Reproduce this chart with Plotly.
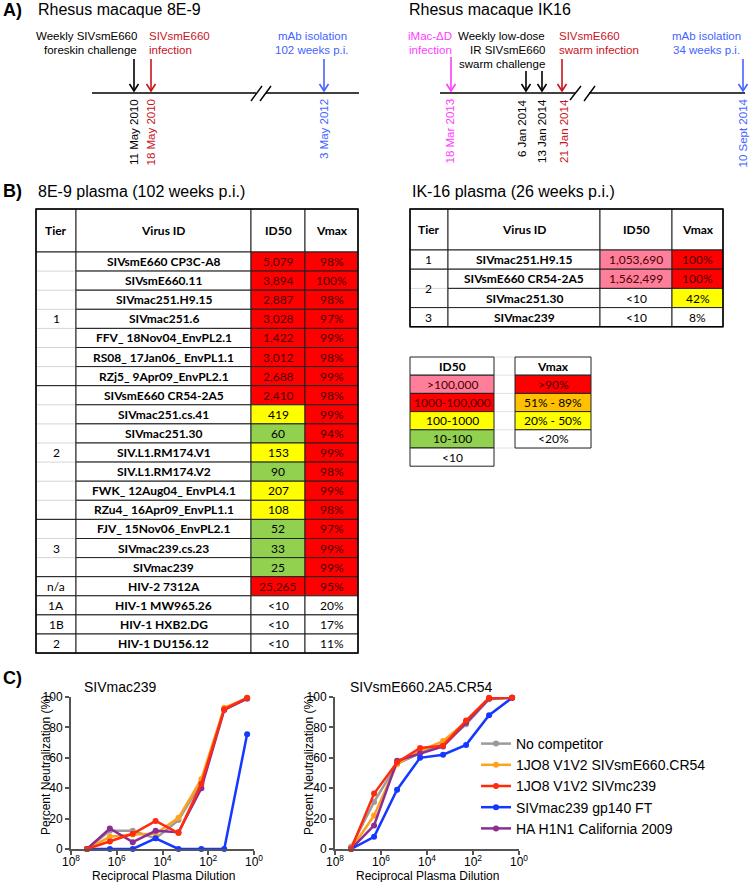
import plotly.graph_objects as go

W, H = 750, 882

# ---------------- Panel A data ----------------
a1_notes = ["Weekly SIVsmE660", "foreskin challenge", "SIVsmE660", "infection", "mAb isolation", "102 weeks p.i."]
a1_dates = ["11 May 2010", "18 May 2010", "3 May 2012"]
a2_notes = ["iMac-ΔD", "infection", "Weekly low-dose", "IR SIVsmE660", "swarm challenge",
            "SIVsmE660", "swarm infection", "mAb isolation", "34 weeks p.i."]
a2_dates = ["18 Mar 2013", "6 Jan 2014", "13 Jan 2014", "21 Jan 2014", "10 Sept 2014"]

# ---------------- Panel B data ----------------
tier_8e9 = ["1", "1", "1", "1", "1", "1", "1", "2", "2", "2", "2", "2", "2", "2",
            "3", "3", "3", "n/a", "1A", "1B", "2"]
virus_8e9 = ["SIVsmE660 CP3C-A8", "SIVsmE660.11", "SIVmac251.H9.15", "SIVmac251.6",
             "FFV_ 18Nov04_EnvPL2.1", "RS08_ 17Jan06_ EnvPL1.1", "RZj5_ 9Apr09_EnvPL2.1",
             "SIVsmE660 CR54-2A5", "SIVmac251.cs.41", "SIVmac251.30", "SIV.L1.RM174.V1",
             "SIV.L1.RM174.V2", "FWK_ 12Aug04_ EnvPL4.1", "RZu4_ 16Apr09_EnvPL1.1",
             "FJV_ 15Nov06_EnvPL2.1", "SIVmac239.cs.23", "SIVmac239", "HIV-2 7312A",
             "HIV-1 MW965.26", "HIV-1 HXB2.DG", "HIV-1 DU156.12"]
id50_8e9 = ["5,079", "3,894", "2,887", "3,028", "1,422", "3,012", "2,688", "2,410", "419", "60",
            "153", "90", "207", "108", "52", "33", "25", "25,265", "<10", "<10", "<10"]
vmax_8e9 = ["98%", "100%", "98%", "97%", "99%", "98%", "99%", "98%", "99%", "94%", "99%",
            "98%", "99%", "98%", "97%", "99%", "99%", "95%", "20%", "17%", "11%"]

tier_ik16 = ["1", "2", "2", "3"]
virus_ik16 = ["SIVmac251.H9.15", "SIVsmE660 CR54-2A5", "SIVmac251.30", "SIVmac239"]
id50_ik16 = ["1,053,690", "1,562,499", "<10", "<10"]
vmax_ik16 = ["100%", "100%", "42%", "8%"]

id50_key = [">100,000", "1000-100,000", "100-1000", "10-100", "<10"]
vmax_key = [">90%", "51% - 89%", "20% - 50%", "<20%"]

# ---------------- Panel C data ----------------
dilution = [2e7, 2e6, 2e5, 2e4, 2e3, 2e2, 2e1, 2]
competitors = ["No competitor", "1JO8 V1V2 SIVsmE660.CR54", "1JO8 V1V2 SIVmc239",
               "SIVmac239 gp140 FT", "HA H1N1 California 2009"]
mac239_no_comp = [0, 12, 12, 7, 19, 44, 92, 99]
mac239_cr54 = [0, 8, 9.5, 10, 20.5, 46, 93, 99]
mac239_mc239 = [0, 5, 10, 18.5, 10.5, 43, 92, 99.5]
mac239_gp140 = [0, 0, 0, 7, 0, 0, 0, 75.5]
mac239_ha = [0, 13.5, 4.5, 12, 11, 40, 91.5, 99]

cr54_no_comp = [1.5, 31, 56, 63, 69, 82, 98.5, 99.5]
cr54_cr54 = [0, 22, 56, 64.5, 71, 83.5, 99, 99.5]
cr54_mc239 = [0, 36.5, 57, 66.5, 68, 84.5, 99.5, 99.5]
cr54_gp140 = [0, 8, 39, 60, 62, 68.5, 88, 99.5]
cr54_ha = [0, 15.5, 58, 63, 67.5, 83, 99, 99.5]

# ---------------- styling ----------------
SANS = "Liberation Sans, Arial, sans-serif"
TAB = "Lato, Carlito, Calibri, sans-serif"
PINK, RED, YEL, GRN, ORG, WHT = "#ff7e9a", "#ff0000", "#ffff00", "#92d050", "#ffc000", "#ffffff"
C_RED, C_BLUE, C_MAG = "#c8141c", "#4463ff", "#ff3cff"
curve_colors = ["#9b9b9b", "#ffa11f", "#ff2b0d", "#1438ff", "#8c2d94"]

shapes, annots = [], []


def px(x):
    return x / W


def py(y):
    return 1 - y / H


def rect(x0, y0, x1, y1, fill=WHT, line="#222222", lw=1.0):
    shapes.append(dict(type="rect", xref="paper", yref="paper", x0=px(x0), x1=px(x1),
                       y0=py(y1), y1=py(y0), fillcolor=fill, line=dict(color=line, width=lw),
                       layer="below"))


def seg(x0, y0, x1, y1, color="black", lw=1.0):
    shapes.append(dict(type="line", xref="paper", yref="paper", x0=px(x0), x1=px(x1),
                       y0=py(y0), y1=py(y1), line=dict(color=color, width=lw), layer="below"))


def txt(x, y, s, size=12, color="black", family=SANS, xa="center", ya="middle", angle=0):
    annots.append(dict(x=px(x), y=py(y), xref="paper", yref="paper", text=s, showarrow=False,
                       xanchor=xa, yanchor=ya, textangle=angle,
                       font=dict(size=size, color=color, family=family)))


def arrow(x, y_head, y_tail, color):
    seg(x, y_tail, x, y_head, color=color, lw=1.6)
    path = (f"M{px(x - 4.5)},{py(y_head - 7)} L{px(x)},{py(y_head)} "
            f"L{px(x + 4.5)},{py(y_head - 7)}")
    shapes.append(dict(type="path", xref="paper", yref="paper", path=path,
                       line=dict(color=color, width=1.6), layer="below"))


def id50_fill(s):
    if s.startswith("<"):
        return WHT
    v = int(s.replace(",", ""))
    if v > 100000:
        return PINK
    if v >= 1000:
        return RED
    if v >= 100:
        return YEL
    return GRN


def vmax_fill(s):
    v = int(s.strip("%"))
    if v > 90:
        return RED
    if v > 50:
        return ORG
    if v > 20:
        return YEL
    return WHT


def ink(fill):
    return "#4a0000" if fill in (RED, PINK) else "#000000"


# ---------------- Panel A ----------------
txt(1, 10, "<b>A)</b>", size=18, xa="left")
txt(36, 9, "Rhesus macaque 8E-9", size=16, xa="left")
seg(92, 93, 256, 93, lw=1.6)
seg(266, 93, 359, 93, lw=1.6)
seg(251, 101, 262, 86, lw=1.4)
seg(260, 101, 271, 86, lw=1.4)
arrow(134, 91, 59, "black")
arrow(151, 91, 59, C_RED)
arrow(324, 91, 59, C_BLUE)
txt(139, 36, a1_notes[0], 11.5, xa="right")
txt(139, 50, a1_notes[1], 11.5, xa="right")
txt(147, 36, a1_notes[2], 11.5, C_RED, xa="left")
txt(147, 50, a1_notes[3], 11.5, C_RED, xa="left")
txt(312, 36, a1_notes[4], 11.5, C_BLUE)
txt(312, 50, a1_notes[5], 11.5, C_BLUE)
for xx, s, c in zip([134, 151, 324], a1_dates, ["black", C_RED, C_BLUE]):
    txt(xx, 97, s, 11.5, c, ya="top", angle=-90)

txt(407, 9, "Rhesus macaque IK16", size=16, xa="left")
seg(440, 93, 575, 93, lw=1.6)
seg(589, 93, 745, 93, lw=1.6)
seg(570, 100, 581, 86, lw=1.4)
seg(584, 101, 595, 86, lw=1.4)
arrow(451, 91, 57, C_MAG)
arrow(526, 91, 71, "black")
arrow(542, 91, 71, "black")
arrow(562, 91, 59, C_RED)
arrow(743, 91, 59, C_BLUE)
txt(454, 36, a2_notes[0], 11.5, C_MAG, xa="right")
txt(454, 50, a2_notes[1], 11.5, C_MAG, xa="right")
txt(547, 36, a2_notes[2], 11.5, xa="right")
txt(547, 50, a2_notes[3], 11.5, xa="right")
txt(547, 63.5, a2_notes[4], 11.5, xa="right")
txt(557, 36, a2_notes[5], 11.5, C_RED, xa="left")
txt(557, 50, a2_notes[6], 11.5, C_RED, xa="left")
txt(706, 36, a2_notes[7], 11.5, C_BLUE)
txt(706, 50, a2_notes[8], 11.5, C_BLUE)
for xx, s, c in zip([450, 522, 542, 564, 743], a2_dates, [C_MAG, "black", "black", C_RED, C_BLUE]):
    txt(xx, 97, s, 11.5, c, ya="top", angle=-90)


# ---------------- Panel B ----------------
def draw_table(xe, top, head_h, row_h, tiers, viruses, id50, vmax):
    hb = top + head_h
    for j, h in enumerate(["Tier", "Virus ID", "ID50", "Vmax"]):
        rect(xe[j], top, xe[j + 1], hb)
        txt((xe[j] + xe[j + 1]) / 2, (top + hb) / 2, f"<b>{h}</b>", 12, family=TAB)
    n = len(viruses)
    start = 0
    for i in range(1, n + 1):
        if i == n or tiers[i] != tiers[start]:
            y0, y1 = hb + start * row_h, hb + i * row_h
            rect(xe[0], y0, xe[1], y1)
            for k in range(start + 1, i):
                seg(xe[0] + 1, hb + k * row_h, xe[1] - 1, hb + k * row_h, color="#d6d6d6")
            txt((xe[0] + xe[1]) / 2, (y0 + y1) / 2, tiers[start], 12, family=TAB)
            start = i
    for i in range(n):
        y0 = hb + i * row_h
        y1 = y0 + row_h
        yc = (y0 + y1) / 2
        rect(xe[1], y0, xe[2], y1)
        txt((xe[1] + xe[2]) / 2, yc, f"<b>{viruses[i]}</b>", 12, family=TAB)
        f = id50_fill(id50[i])
        rect(xe[2], y0, xe[3], y1, fill=f)
        txt((xe[2] + xe[3]) / 2, yc, id50[i], 12, ink(f), family=TAB)
        f = vmax_fill(vmax[i])
        rect(xe[3], y0, xe[4], y1, fill=f)
        txt((xe[3] + xe[4]) / 2, yc, vmax[i], 12, ink(f), family=TAB)
    rect(xe[0], top, xe[-1], hb + n * row_h, fill="rgba(0,0,0,0)", line="black", lw=1.5)


txt(1, 191, "<b>B)</b>", size=18, xa="left")
txt(36, 191, "8E-9 plasma (102 weeks p.i.)", size=16, xa="left")
draw_table([36, 76, 251, 305, 358], 209, 43, 19.1, tier_8e9, virus_8e9, id50_8e9, vmax_8e9)

txt(410, 191, "IK-16 plasma (26 weeks p.i.)", size=16, xa="left")
draw_table([410, 448, 600, 672, 723], 209, 41, 19.2, tier_ik16, virus_ik16, id50_ik16, vmax_ik16)

# colour keys
key_top, key_rh = 357, 18.2
id50_key_fill = [PINK, RED, YEL, GRN, WHT]
vmax_key_fill = [RED, ORG, YEL, WHT]
for k in range(6):
    seg(494, key_top + k * key_rh, 515, key_top + k * key_rh, color="#e2e2e2")
seg(591, key_top + 5 * key_rh, 515, key_top + 5 * key_rh, color="#e2e2e2")
seg(591, key_top + 4 * key_rh, 591, key_top + 5 * key_rh, color="#e2e2e2")
rect(410, key_top, 494, key_top + key_rh)
txt(452, key_top + key_rh / 2, "<b>ID50</b>", 12, family=TAB)
for k, (s, f) in enumerate(zip(id50_key, id50_key_fill)):
    y0 = key_top + (k + 1) * key_rh
    rect(410, y0, 494, y0 + key_rh, fill=f)
    txt(452, y0 + key_rh / 2, s, 12, ink(f), family=TAB)
rect(515, key_top, 591, key_top + key_rh)
txt(553, key_top + key_rh / 2, "<b>Vmax</b>", 12, family=TAB)
for k, (s, f) in enumerate(zip(vmax_key, vmax_key_fill)):
    y0 = key_top + (k + 1) * key_rh
    rect(515, y0, 591, y0 + key_rh, fill=f)
    txt(553, y0 + key_rh / 2, s, 12, ink(f), family=TAB)

# ---------------- Panel C ----------------
fig = go.Figure()
mac239 = [mac239_no_comp, mac239_cr54, mac239_mc239, mac239_gp140, mac239_ha]
cr54 = [cr54_no_comp, cr54_cr54, cr54_mc239, cr54_gp140, cr54_ha]
draw_order = [0, 1, 4, 3, 2]
for xa, ya, data, show in [("x", "y", mac239, False), ("x2", "y2", cr54, True)]:
    for i in draw_order:
        fig.add_trace(go.Scatter(
            x=dilution, y=data[i], mode="lines+markers", name=competitors[i],
            line=dict(color=curve_colors[i], width=2.5),
            marker=dict(color=curve_colors[i], size=6),
            xaxis=xa, yaxis=ya, showlegend=show, legendrank=i + 1, cliponaxis=False))

axis_common = dict(showline=True, linecolor="#555555", linewidth=2, ticks="outside",
                   ticklen=4, tickwidth=2, tickcolor="#555555", showgrid=False, zeroline=False,
                   automargin=False,
                   tickfont=dict(size=12, color="black", family=SANS))
xcommon = dict(axis_common, type="log", range=[8, 0], tickvals=[1e8, 1e6, 1e4, 1e2, 1],
               ticklabelstandoff=-3,
               ticktext=["10<sup>8</sup>", "10<sup>6</sup>", "10<sup>4</sup>", "10<sup>2</sup>",
                         "10<sup>0</sup>"])
ycommon = dict(axis_common, range=[0, 100], tickvals=[0, 20, 40, 60, 80, 100])
ydom = [py(849), py(697)]
fig.update_layout(
    xaxis=dict(xcommon, domain=[px(71), px(254)], anchor="y"),
    yaxis=dict(ycommon, domain=ydom, anchor="x"),
    xaxis2=dict(xcommon, domain=[px(335), px(519)], anchor="y2"),
    yaxis2=dict(ycommon, domain=ydom, anchor="x2"),
)

txt(1, 678, "<b>C)</b>", size=18, xa="left")
txt(82, 687, "SIVmac239", 14, xa="left")
txt(348, 687, "SIVsmE660.2A5.CR54", 14, xa="left")
for xc in [163, 427]:
    txt(xc, 876, "Reciprocal Plasma Dilution", 12)
for xc in [46, 309]:
    txt(xc, 765, "Percent Neutralization (%)", 12, angle=-90)

fig.update_layout(
    width=W, height=H, margin=dict(l=0, r=0, t=0, b=0, autoexpand=False),
    paper_bgcolor="white", plot_bgcolor="white",
    shapes=shapes, annotations=annots,
    legend=dict(x=px(476), y=py(728), xanchor="left", yanchor="top",
                font=dict(size=14, family=SANS, color="black"), tracegroupgap=0,
                bgcolor="rgba(0,0,0,0)", itemwidth=30),
    font=dict(family=SANS),
)

fig.write_html("out.html", config={"displayModeBar": False},
               post_script="document.body.style.margin='0px'; document.body.style.padding='0px';")
